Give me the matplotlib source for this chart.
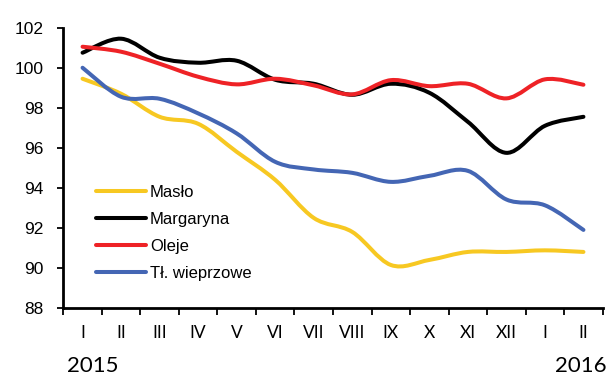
import matplotlib
matplotlib.use("Agg")
import matplotlib.pyplot as plt
from matplotlib.path import Path
from matplotlib.patches import PathPatch
from matplotlib.lines import Line2D
import numpy as np

months = ["I", "II", "III", "IV", "V", "VI", "VII", "VIII", "IX", "X", "XI", "XII", "I", "II"]
years = ["2015", "2016"]

maslo = [99.45, 98.7, 97.55, 97.2, 95.8, 94.4, 92.5, 91.8, 90.15, 90.4, 90.8, 90.8, 90.88, 90.8]
margaryna = [100.75, 101.45, 100.5, 100.25, 100.35, 99.4, 99.2, 98.65, 99.2, 98.75, 97.3, 95.75, 97.1, 97.55]
oleje = [101.05, 100.8, 100.2, 99.55, 99.17, 99.45, 99.12, 98.67, 99.38, 99.08, 99.2, 98.47, 99.42, 99.15]
tl_wieprzowe = [100.0, 98.55, 98.45, 97.72, 96.72, 95.3, 94.92, 94.75, 94.3, 94.6, 94.85, 93.42, 93.13, 91.9]

series = [
    ("Masło", maslo, "#F7C822"),
    ("Margaryna", margaryna, "#000000"),
    ("Oleje", oleje, "#EE2226"),
    ("Tł. wieprzowe", tl_wieprzowe, "#4466B4"),
]

LW = 2.9


def smooth_path(xs, ys):
    """Cubic Bezier path through the points (Catmull-Rom style smoothing)."""
    pts = np.column_stack([xs, ys]).astype(float)
    n = len(pts)
    verts = [pts[0]]
    codes = [Path.MOVETO]
    for i in range(n - 1):
        p0 = pts[i - 1] if i > 0 else pts[i]
        p1 = pts[i]
        p2 = pts[i + 1]
        p3 = pts[i + 2] if i + 2 < n else pts[i + 1]
        c1 = p1 + (p2 - p0) / 6.0
        c2 = p2 - (p3 - p1) / 6.0
        verts += [c1, c2, p2]
        codes += [Path.CURVE4] * 3
    return Path(verts, codes)


fig = plt.figure(figsize=(6.08, 3.76), dpi=100)
ax = fig.add_axes([63.3 / 608, 1 - 308 / 376, (602.7 - 63.3) / 608, (308 - 27.7) / 376])

x = np.arange(len(months))
for name, vals, color in series:
    patch = PathPatch(smooth_path(x, vals), facecolor="none", edgecolor=color,
                      lw=LW, capstyle="round", joinstyle="round")
    ax.add_patch(patch)

ax.set_xlim(-0.5, len(months) - 0.5)
ax.set_ylim(88, 102)
ax.set_yticks(np.arange(88, 103, 2))

for side in ("top", "right"):
    ax.spines[side].set_visible(False)
for side in ("left", "bottom"):
    ax.spines[side].set_linewidth(2.0)
    ax.spines[side].set_color("#000000")

ax.tick_params(axis="y", direction="out", length=4, width=1.3, pad=10,
               labelsize=12.5)
for lab in ax.get_yticklabels():
    lab.set_fontfamily("Liberation Sans")

# month labels at category centres, tick marks on category boundaries
ax.set_xticks(x)
ax.set_xticklabels(months, fontfamily="Lato", fontsize=12.5)
ax.tick_params(axis="x", which="major", length=0, pad=12)
ax.set_xticks(np.arange(-0.5, len(months), 1.0), minor=True)
ax.tick_params(axis="x", which="minor", direction="out", length=5, width=1.3)

fig.text(67 / 608, 1 - 366 / 376, years[0], fontfamily="Lato", fontsize=16,
         ha="left", va="center")
fig.text(607 / 608, 1 - 366 / 376, years[1], fontfamily="Lato", fontsize=16,
         ha="right", va="center")

handles = [Line2D([0], [0], color=c, lw=LW, solid_capstyle="round") for _, _, c in series]
leg = ax.legend(handles, [s[0] for s in series], loc="upper left",
                bbox_to_anchor=((96 - 63.3) / 539.4 - 0.012, (308 - 178) / 280.3),
                frameon=False, handlelength=3.0, handletextpad=0.22,
                labelspacing=0.72, borderaxespad=0,
                prop={"family": "Liberation Sans", "size": 12})

fig.savefig("out.png", dpi=100)
